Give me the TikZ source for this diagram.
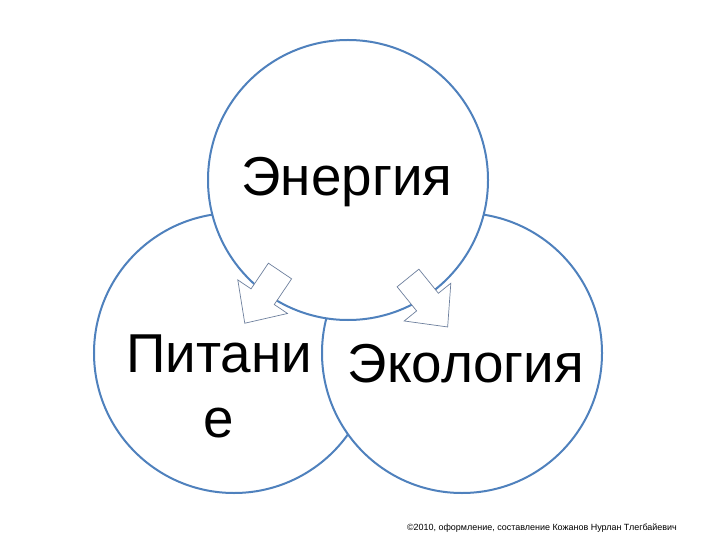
\documentclass[tikz,border=0pt]{standalone}
\usepackage{fontspec}
\setmainfont{Liberation Sans}
\definecolor{ringblue}{RGB}{79,129,189}
\definecolor{arrowgray}{RGB}{110,128,158}
\begin{document}
\begin{tikzpicture}[x=1bp,y=-1bp,
  ring/.style={circle, draw=ringblue, line width=2bp, fill=white, minimum size=280bp, inner sep=0pt},
  blockarrow/.style={draw=arrowgray, line width=0.7bp, fill=white, line join=miter},
  biglabel/.style={font=\fontsize{55}{65}\selectfont, text=black, inner sep=0pt},
  credit/.style={font=\fontsize{9}{10}\selectfont, text=black, inner sep=0pt}]
\fill[white] (0,0) rectangle (720,540);
\useasboundingbox (0,0) rectangle (720,540);
% circles
\node[ring] (nutr) at (234,353) {};
\node[ring] (eco) at (462,353) {};
\node[ring] (energy) at (348,180) {};
% block arrows
\begin{scope}[shift={(280,271)}, rotate=236]
  \draw[blockarrow] (0,-14) -- (31,-14) -- (31,-30) -- (63,0) -- (31,30) -- (31,14) -- (0,14) -- cycle;
\end{scope}
\begin{scope}[shift={(408,278)}, rotate=-51]
  \draw[blockarrow] (0,-14) -- (31,-14) -- (31,-30) -- (63,0) -- (31,30) -- (31,14) -- (0,14) -- cycle;
\end{scope}
% texts
\node[biglabel, anchor=base] (tEnergy) at (347,196) {Энергия};
\node[biglabel, anchor=base, align=center] (tNutr) at (219,437) {Питани\\е};
\node[biglabel, anchor=base] (tEco) at (466,382) {Экология};
\node[credit, anchor=base] (tCredit) at (542,530) {©2010, оформление, составление Кожанов Нурлан Тлегбайевич};
\end{tikzpicture}
\end{document}
